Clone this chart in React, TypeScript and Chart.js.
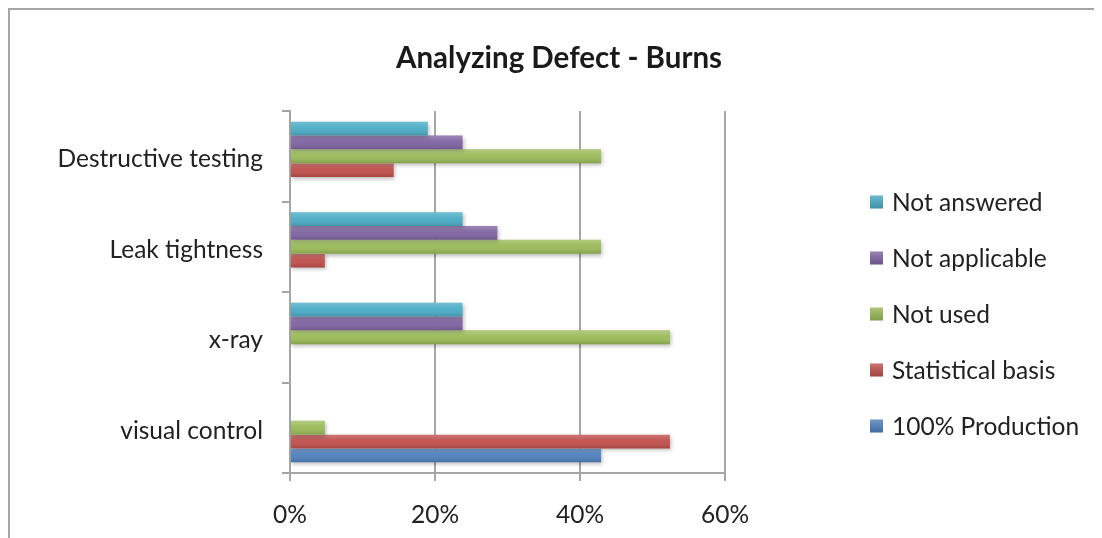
import React, { useEffect, useRef } from "react";
import { Chart, registerables } from "chart.js";

Chart.register(...registerables);

// Categories listed top to bottom
const categories = ["Destructive testing", "Leak tightness", "x-ray", "visual control"];

// Series (percent of responses); listed in the order they stack inside a group, top first
const seriesNames = ["Not answered", "Not applicable", "Not used", "Statistical basis", "100% Production"];
const notAnswered = [19.0, 23.8, 23.8, 0];
const notApplicable = [23.8, 28.6, 23.8, 0];
const notUsed = [42.9, 42.9, 52.4, 4.8];
const statisticalBasis = [14.3, 4.8, 0, 52.4];
const fullProduction = [0, 0, 0, 42.9];
const seriesColors = ["#4BACC6", "#8064A2", "#9BBB59", "#C0504D", "#4F81BD"];

const xTicks = [0, 20, 40, 60];
const titleText = "Analyzing Defect - Burns";

const FONT = "Lato, 'Open Sans', sans-serif";
const GRID = "#a6a6a6";
const TEXT_SIZE = 24.5;

export default function App() {
  const ref = useRef<HTMLCanvasElement>(null);

  useEffect(() => {
    document.body.style.overflow = "hidden";
    const canvas = ref.current!;
    const values = [notAnswered, notApplicable, notUsed, statisticalBasis, fullProduction];

    // soft shadow under every bar
    const barShadow = {
      id: "barShadow",
      beforeDatasetDraw(chart: any) {
        const ctx = chart.ctx;
        ctx.save();
        ctx.shadowColor = "rgba(0,0,0,0.28)";
        ctx.shadowBlur = 4;
        ctx.shadowOffsetX = 1;
        ctx.shadowOffsetY = 2;
      },
      afterDatasetDraw(chart: any) {
        chart.ctx.restore();
      },
    };

    // rounded-looking shading across each bar's thickness
    const barGloss = {
      id: "barGloss",
      afterDatasetsDraw(chart: any) {
        const ctx = chart.ctx;
        chart.data.datasets.forEach((_: any, di: number) => {
          const meta = chart.getDatasetMeta(di);
          meta.data.forEach((bar: any) => {
            const { x, y, base, height } = bar.getProps(["x", "y", "base", "height"], true);
            const w = x - base;
            if (w <= 0.5) return;
            const top = y - height / 2;
            const g = ctx.createLinearGradient(0, top, 0, top + height);
            g.addColorStop(0, "rgba(255,255,255,0.22)");
            g.addColorStop(0.45, "rgba(255,255,255,0.04)");
            g.addColorStop(1, "rgba(0,0,0,0.14)");
            ctx.save();
            ctx.fillStyle = g;
            ctx.fillRect(base, top, w, height);
            ctx.restore();
          });
        });
      },
    };

    // heading and legend at the right of the plot
    const decorations = {
      id: "decorations",
      afterDraw(chart: any) {
        const ctx = chart.ctx;
        ctx.save();
        ctx.fillStyle = "#1a1a1a";
        ctx.font = `bold 29.5px ${FONT}`;
        ctx.textAlign = "center";
        ctx.textBaseline = "middle";
        ctx.fillText(titleText, 549, 48);

        const area = chart.chartArea;
        const boxX = area.right + 145;
        const firstY = 193;
        const step = 56;
        ctx.font = `${TEXT_SIZE}px ${FONT}`;
        ctx.textAlign = "left";
        chart.data.datasets.forEach((ds: any, i: number) => {
          const cy = firstY + i * step;
          const size = 13;
          const top = cy - size / 2 - 1;
          ctx.fillStyle = ds.backgroundColor;
          ctx.fillRect(boxX, top, size, size);
          const g = ctx.createLinearGradient(0, top, 0, top + size);
          g.addColorStop(0, "rgba(255,255,255,0.2)");
          g.addColorStop(1, "rgba(0,0,0,0.15)");
          ctx.fillStyle = g;
          ctx.fillRect(boxX, top, size, size);
          ctx.fillStyle = "#222";
          ctx.fillText(ds.label, boxX + 22, cy);
        });
        ctx.restore();
      },
    };

    const chart = new Chart(canvas, {
      type: "bar",
      data: {
        labels: categories,
        datasets: seriesNames.map((name, i) => ({
          label: name,
          data: values[i],
          backgroundColor: seriesColors[i],
          borderWidth: 0,
          categoryPercentage: 0.76,
          barPercentage: 1,
        })),
      },
      options: {
        indexAxis: "y",
        responsive: false,
        animation: false,
        devicePixelRatio: 1,
        layout: { padding: { top: 101, right: 377, left: 0, bottom: 0 } },
        plugins: {
          legend: { display: false },
          title: { display: false },
          tooltip: { enabled: false },
        },
        scales: {
          x: {
            min: 0,
            max: 60,
            afterBuildTicks(scale: any) {
              scale.ticks = xTicks.map((v) => ({ value: v }));
            },
            afterFit(scale: any) {
              scale.height = 65;
            },
            grid: {
              color: GRID,
              lineWidth: 2,
              drawTicks: true,
              tickLength: 8,
              tickColor: GRID,
            },
            border: { display: true, color: GRID, width: 2 },
            ticks: {
              padding: 19,
              color: "#222",
              font: { family: FONT, size: TEXT_SIZE },
              callback: (v: any) => `${v}%`,
            },
          },
          y: {
            afterFit(scale: any) {
              scale.width = 280;
            },
            grid: {
              offset: true,
              drawOnChartArea: false,
              drawTicks: true,
              tickLength: 8,
              color: GRID,
              lineWidth: 2,
            },
            border: { display: true, color: GRID, width: 2 },
            ticks: {
              padding: 19,
              labelOffset: 3,
              color: "#222",
              font: { family: FONT, size: TEXT_SIZE },
            },
          },
        },
      },
      plugins: [barShadow, barGloss, decorations],
    });

    return () => chart.destroy();
  }, []);

  return (
    <div
      style={{
        position: "relative",
        width: 1094,
        height: 530,
        borderLeft: "2px solid #a6a6a6",
        borderTop: "2px solid #a6a6a6",
        boxSizing: "border-box",
        background: "#fff",
      }}
    >
      <canvas ref={ref} width={1092} height={528} style={{ display: "block" }} />
    </div>
  );
}
